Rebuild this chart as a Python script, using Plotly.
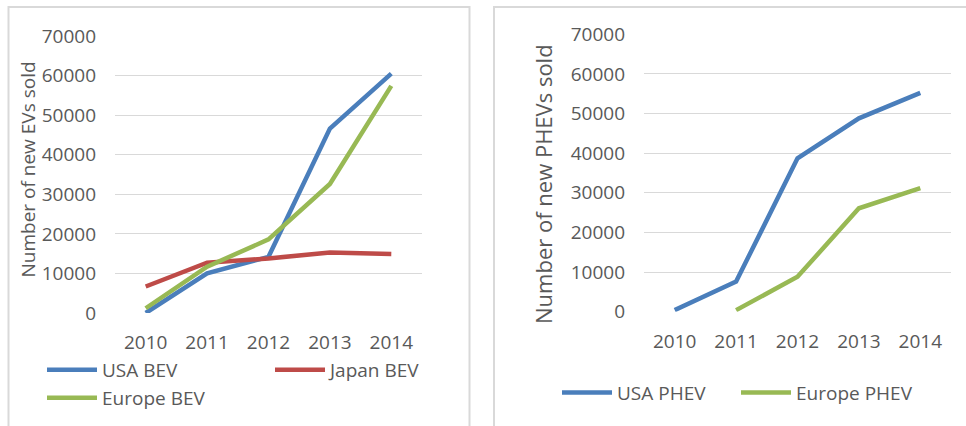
import plotly.graph_objects as go

years = ['2010', '2011', '2012', '2013', '2014']
usa_bev = [0, 10000, 14200, 46600, 60500]
japan_bev = [6700, 12700, 13800, 15300, 14900]
europe_bev = [1200, 11700, 18600, 32600, 57400]
usa_phev = [400, 7600, 38700, 48800, 55200]
europe_phev = [None, 400, 8800, 26100, 31200]
y_ticks = [0, 10000, 20000, 30000, 40000, 50000, 60000, 70000]

BLUE = '#4a7ebb'
RED = '#be4b48'
GREEN = '#98b954'
TXT = '#595959'
GRID = '#d9d9d9'
FONT = 'Open Sans'
W, H = 966, 426
LW = 4.5

fig = go.Figure()
fig.add_trace(go.Scatter(x=years, y=usa_bev, name='USA BEV', mode='lines',
                         line=dict(color=BLUE, width=LW), xaxis='x', yaxis='y', legend='legend'))
fig.add_trace(go.Scatter(x=years, y=japan_bev, name='Japan BEV', mode='lines',
                         line=dict(color=RED, width=LW), xaxis='x', yaxis='y', legend='legend'))
fig.add_trace(go.Scatter(x=years, y=europe_bev, name='Europe BEV', mode='lines',
                         line=dict(color=GREEN, width=LW), xaxis='x', yaxis='y', legend='legend3'))
fig.add_trace(go.Scatter(x=years, y=usa_phev, name='USA PHEV', mode='lines',
                         line=dict(color=BLUE, width=LW), xaxis='x2', yaxis='y2', legend='legend2'))
fig.add_trace(go.Scatter(x=years, y=europe_phev, name='Europe PHEV', mode='lines',
                         line=dict(color=GREEN, width=LW), xaxis='x2', yaxis='y2', legend='legend2'))

def px(v):
    return v / W

def py(v):
    return 1 - v / H

xcommon = dict(type='category', range=[-0.5, 4.5], showgrid=False, zeroline=False,
               showline=False, ticks='', tickfont=dict(family=FONT, size=19, color=TXT),
               ticklabelstandoff=16, fixedrange=True, automargin=False)
ycommon = dict(range=[0, 70000], tickvals=y_ticks, tickformat='d', showgrid=True,
               gridcolor=GRID, gridwidth=1.3,
               zeroline=False, showline=False, ticks='',
               tickfont=dict(family=FONT, size=19, color=TXT), ticklabelstandoff=18,
               fixedrange=True, automargin=False)

legcommon = dict(orientation='h', font=dict(family=FONT, size=19, color=TXT),
                 bgcolor='rgba(0,0,0,0)', xanchor='left', yanchor='middle',
                 itemwidth=50, tracegroupgap=0)

fig.update_layout(
    width=W, height=H,
    margin=dict(l=0, r=0, t=0, b=0, autoexpand=False),
    paper_bgcolor='white', plot_bgcolor='white',
    xaxis=dict(xcommon, domain=[px(115), px(422)], anchor='y'),
    yaxis=dict(ycommon, domain=[py(313), py(36)], anchor='x'),
    xaxis2=dict(xcommon, domain=[px(644), px(951)], anchor='y2'),
    yaxis2=dict(ycommon, domain=[py(311.7), py(34.3)], anchor='x2'),
    legend=dict(legcommon, x=px(42), y=py(370), entrywidth=163, entrywidthmode='pixels'),
    legend3=dict(legcommon, x=px(42), y=py(398)),
    legend2=dict(legcommon, x=px(557), y=py(392.7), entrywidth=114, entrywidthmode='pixels'),
    annotations=[
        dict(text='Number of new EVs sold', textangle=-90, x=px(27.5), y=py(170),
             xref='paper', yref='paper', showarrow=False, xanchor='center', yanchor='middle',
             font=dict(family=FONT, size=19, color=TXT)),
        dict(text='Number of new PHEVs sold', textangle=-90, x=px(543), y=py(184),
             xref='paper', yref='paper', showarrow=False, xanchor='center', yanchor='middle',
             font=dict(family=FONT, size=22, color=TXT)),
    ],
    shapes=[
        dict(type='rect', xref='paper', yref='paper', x0=px(8.5), x1=px(469.5),
             y0=py(440), y1=py(7), line=dict(color=GRID, width=2), layer='below'),
        dict(type='rect', xref='paper', yref='paper', x0=px(494), x1=px(980),
             y0=py(440), y1=py(7), line=dict(color=GRID, width=2), layer='below'),
    ],
    showlegend=True,
)

fig.write_html('out.html')
